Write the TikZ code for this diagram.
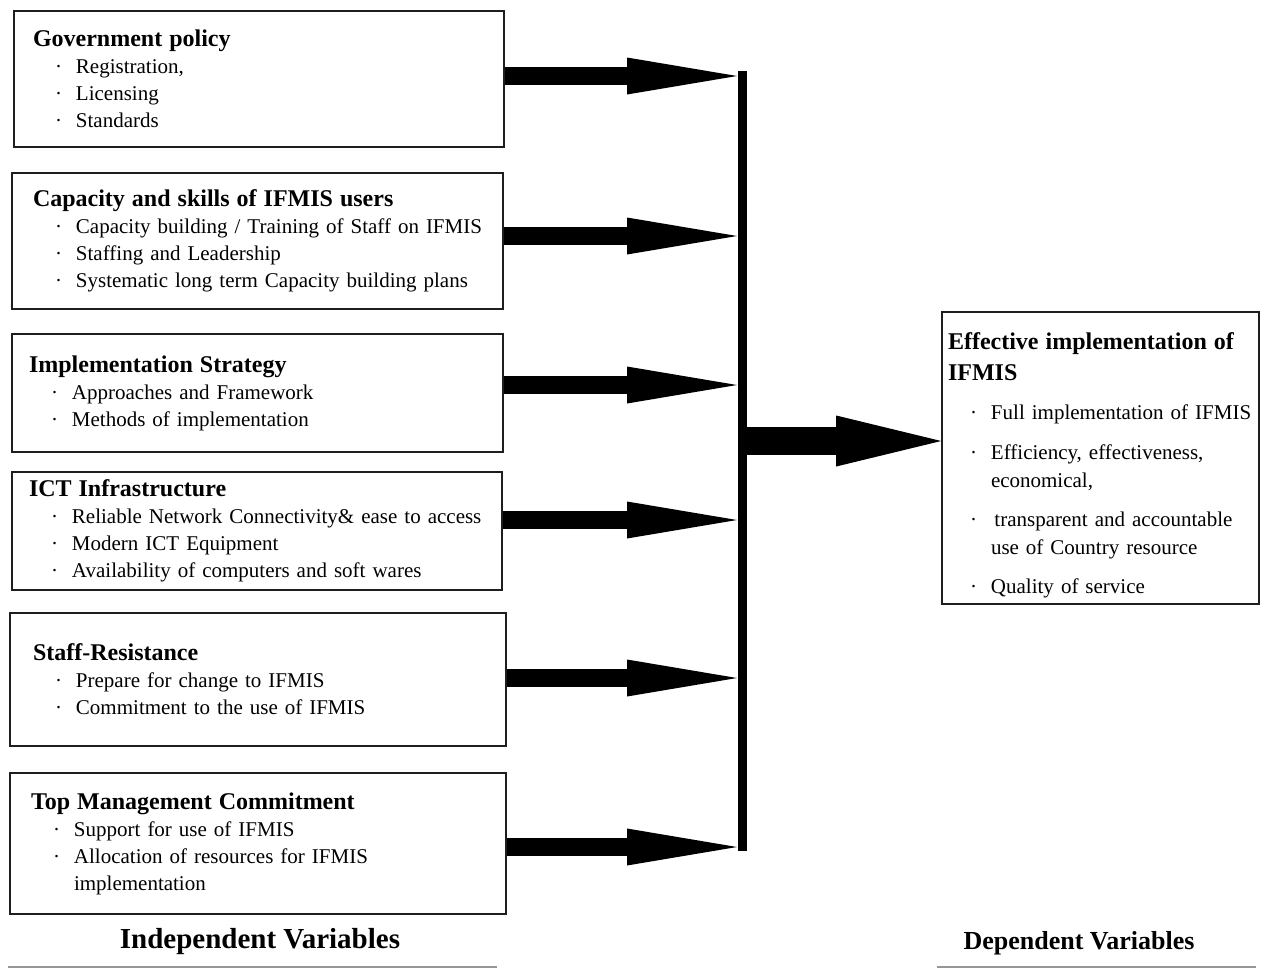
\documentclass[tikz,border=0pt]{standalone}
\usepackage{fontspec}
\setmainfont{Liberation Serif}
\usepackage{tikz}
\usetikzlibrary{calc, arrows.meta, positioning}
\definecolor{boxline}{RGB}{30,30,30}
\definecolor{underline}{RGB}{150,150,150}
\tikzstyle{factor} =[draw=boxline, line width=1.6pt, align=left, inner ysep=0pt, font=\fontsize{21}{27}\selectfont]
\tikzstyle{flow} =[line width=18pt, -{Triangle[length=110pt,width=37pt,line width=0pt]}]
\tikzstyle{caption} =[font=\fontsize{29}{32}\selectfont\bfseries]
% bullet line, continued line and box title
\newcommand{\itm}[2][0pt]{\\[#1]\hspace*{22pt}\makebox[21pt][l]{·}#2}
\newcommand{\contline}[1]{\\\hspace*{43pt}#1}
\newcommand{\boxtitle}[1]{{\fontsize{24}{27}\selectfont\bfseries #1}}

\begin{document}
\begin{tikzpicture}[x=1pt, y=-1pt]
        \useasboundingbox (0,0) rectangle (1264,970);

        % Independent variables
        \node[factor, inner xsep=19pt, text width=452pt, minimum height=136pt] (gov) at (259,79)
            {\boxtitle{Government policy}\itm{Registration,}\itm{Licensing}\itm{Standards}};
        \node[factor, inner xsep=21pt, text width=449pt, minimum height=136pt] (cap) at (257.5,241)
            {\boxtitle{Capacity and skills of IFMIS users}\itm{Capacity building / Training of Staff on IFMIS}\itm{Staffing and Leadership}\itm{Systematic long term Capacity building plans}};
        \node[factor, inner xsep=17pt, text width=457pt, minimum height=118pt] (imp) at (257.5,393)
            {\boxtitle{Implementation Strategy}\itm{Approaches and Framework}\itm{Methods of implementation}};
        \node[factor, inner xsep=17pt, text width=456pt, minimum height=118pt] (ict) at (257,531)
            {\boxtitle{ICT Infrastructure}\itm{Reliable Network Connectivity\& ease to access}\itm{Modern ICT Equipment}\itm{Availability of computers and soft wares}};
        \node[factor, inner xsep=23pt, text width=450pt, minimum height=133pt] (res) at (258,679.5)
            {\boxtitle{Staff-Resistance}\itm{Prepare for change to IFMIS}\itm{Commitment to the use of IFMIS}};
        \node[factor, inner xsep=21pt, text width=454pt, minimum height=141pt] (top) at (258,843.5)
            {\boxtitle{Top Management Commitment}\itm{Support for use of IFMIS}\itm{Allocation of resources for IFMIS}\contline{implementation}};

        % Dependent variable
        \node[factor, inner xsep=6pt, text width=305pt, minimum height=292pt] (eff) at (1100.5,458)
            {\rule{0pt}{31pt}\boxtitle{Effective implementation of}\\[4pt]\boxtitle{IFMIS}\itm[12pt]{Full implementation of IFMIS}\itm[13pt]{Efficiency, effectiveness,}\\[1pt]\hspace*{43pt}economical,\itm[12pt]{\,transparent and accountable}\\[1pt]\hspace*{43pt}use of Country resource\itm[12pt]{Quality of service}};

        %% Junction points on the bar
        \coordinate (j1) at (737,76);
        \coordinate (j2) at (737,236);
        \coordinate (j3) at (737,385);
        \coordinate (j4) at (737,520);
        \coordinate (j5) at (737,678);
        \coordinate (j6) at (737,847);
        \coordinate (jc) at (742,441);

        %% Arrows
        \draw[flow] (gov.east |- j1) -- (j1);
        \draw[flow] (cap.east |- j2) -- (j2);
        \draw[flow] (imp.east |- j3) -- (j3);
        \draw[flow] (ict.east |- j4) -- (j4);
        \draw[flow] (res.east |- j5) -- (j5);
        \draw[flow] (top.east |- j6) -- (j6);

        %% Bar
        \draw[line width=9pt] ($(j1)+(5,-5)$) -- ($(j6)+(5,4)$);

        \draw[line width=28pt, -{Triangle[length=105pt,width=51pt,line width=0pt]}] (jc) -- (eff.west |- jc);

        % Captions
        \node[caption] (indep) at (260,942) {Independent Variables};
        \node[caption, font=\fontsize{26}{30}\selectfont\bfseries] (dep) at (1079,943) {Dependent Variables};
        \draw[underline, line width=1.5pt] (8,967) -- (497,967);
        \draw[underline, line width=1.5pt] (937,967) -- (1256,967);

    \end{tikzpicture}
\end{document}
